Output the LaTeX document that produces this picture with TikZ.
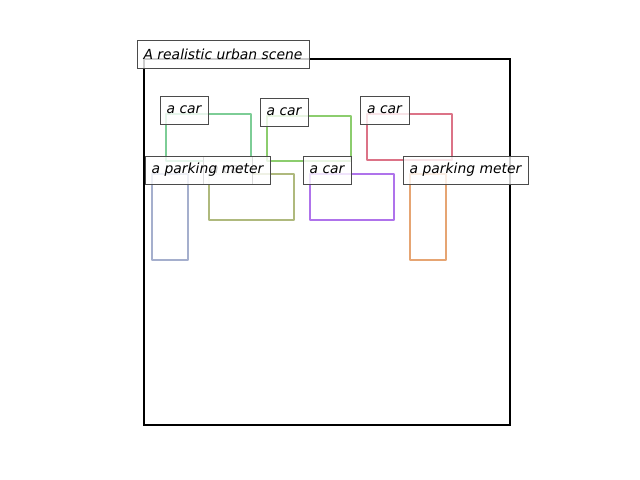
\documentclass[tikz,border=0pt]{standalone}
\usepackage{fontspec}
\setmainfont{DejaVu Sans}
\definecolor{cgreenA}{RGB}{125,205,150}
\definecolor{cgreenB}{RGB}{140,205,110}
\definecolor{cred}{RGB}{220,115,135}
\definecolor{colive}{RGB}{175,185,125}
\definecolor{cpurple}{RGB}{175,115,235}
\definecolor{cbluegrey}{RGB}{165,175,205}
\definecolor{corange}{RGB}{230,165,115}
\definecolor{cedge}{RGB}{75,75,75}
\tikzset{
  objbox/.style={draw=#1, line width=2pt, line join=round},
  labelbox/.style={draw=cedge, line width=0.7pt, fill=white, fill opacity=0.8, text opacity=1,
    font=\fontsize{10}{12}\selectfont\itshape, inner sep=0pt, minimum height=28*0.72pt, anchor=center},
}
\begin{document}
\begin{tikzpicture}[x=0.72pt,y=-0.72pt]
\useasboundingbox (0,0) rectangle (640,480);
% scene frame
\draw[line width=2pt] (144,59) rectangle (510,425);
% object boxes
\draw[objbox=cgreenA] (166,114) rectangle (251,161);
\draw[objbox=cgreenB] (267,116) rectangle (351,161);
\draw[objbox=cred] (367,114) rectangle (452,160);
\draw[objbox=colive] (209,174) rectangle (294,220);
\draw[objbox=cpurple] (310,174) rectangle (394,220);
\draw[objbox=cbluegrey] (152,174) rectangle (188,260);
\draw[objbox=corange] (410,174) rectangle (446,260);
% labels
\node[labelbox, minimum width=172*0.72pt] (title) at (223,54) {\raisebox{-1pt}{A realistic urban scene}};
\node[labelbox, minimum width=48*0.72pt] (lcarA) at (184,110) {\raisebox{-1pt}{a car}};
\node[labelbox, minimum width=48*0.72pt] (lcarB) at (284,112) {\raisebox{-1pt}{a car}};
\node[labelbox, minimum width=49*0.72pt] (lcarE) at (384.5,110) {\raisebox{-1pt}{a car}};
\node[labelbox, minimum width=49*0.72pt] (lcarC) at (227.5,170) {\raisebox{-1pt}{a car}};
\node[labelbox, minimum width=125*0.72pt] (lpmA) at (207.5,170) {\raisebox{-1pt}{a parking meter}};
\node[labelbox, minimum width=48*0.72pt] (lcarD) at (327,170) {\raisebox{-1pt}{a car}};
\node[labelbox, minimum width=125*0.72pt] (lpmB) at (465.5,170) {\raisebox{-1pt}{a parking meter}};
\end{tikzpicture}
\end{document}
